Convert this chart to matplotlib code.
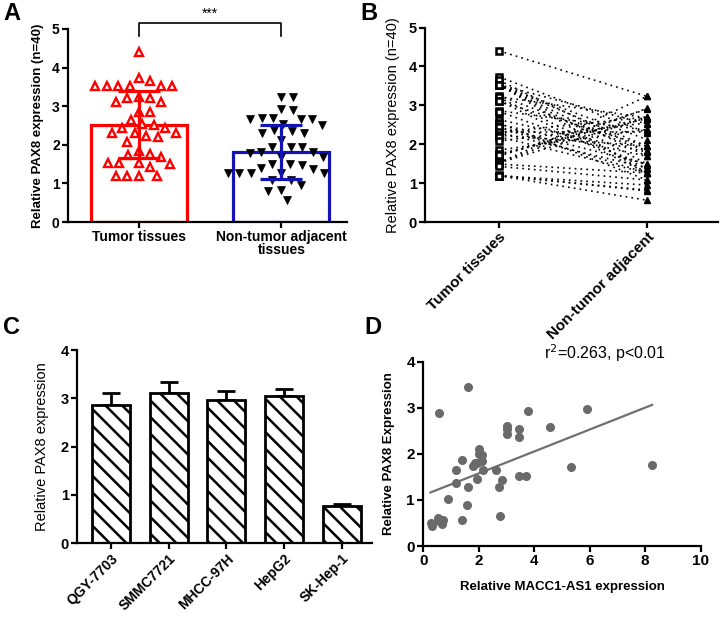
import numpy as np
import matplotlib
matplotlib.use("Agg")
import matplotlib.pyplot as plt

plt.rcParams['font.family'] = ['Liberation Sans', 'DejaVu Sans']
plt.rcParams['hatch.linewidth'] = 1.8
plt.rcParams['hatch.color'] = 'black'

# ---------------- data ----------------
groups_A = ["Tumor tissues", "Non-tumor adjacent\ntissues"]
groups_B = ["Tumor tissues", "Non-tumor adjacent"]
# paired samples (same order in both lists)
tumor = [4.40, 3.73, 3.64, 3.53, 3.53, 3.53, 3.53, 3.53, 3.53, 3.25,
         3.20, 3.22, 3.12, 3.10, 2.86, 2.84, 2.63, 2.54, 2.51, 2.43,
         2.44, 2.30, 2.30, 2.31, 2.23, 2.19, 2.08, 1.85, 1.75, 1.69,
         1.73, 1.52, 1.52, 1.53, 1.49, 1.43, 1.19, 1.19, 1.20, 1.19]
normal = [3.23, 2.30, 1.82, 1.95, 1.49, 2.12, 1.26, 1.69, 2.52, 1.82,
          1.37, 2.68, 1.26, 1.95, 2.36, 1.47, 1.80, 1.08, 1.69, 1.26,
          1.49, 2.70, 1.39, 2.31, 1.95, 1.26, 2.55, 2.38, 2.66, 2.90,
          2.70, 2.68, 3.23, 2.92, 1.26, 1.08, 0.95, 0.82, 0.80, 0.56]
bar_means_A = [2.52, 1.82]
bar_sd_A = [0.87, 0.70]

cell_lines = ["QGY-7703", "SMMC7721", "MHCC-97H", "HepG2", "SK-Hep-1"]
cell_means = [2.87, 3.12, 2.97, 3.05, 0.77]
cell_err = [0.25, 0.21, 0.19, 0.14, 0.04]

macc1 = [0.26, 0.30, 0.54, 0.57, 0.66, 0.70, 0.58, 0.88, 1.19, 1.19,
         1.39, 1.39, 1.56, 1.62, 1.61, 1.78, 1.92, 1.92, 2.02, 2.02,
         2.10, 2.13, 2.14, 2.63, 2.72, 2.75, 2.82, 3.00, 3.00, 3.00,
         3.46, 3.46, 3.46, 3.69, 3.76, 4.56, 5.32, 5.90, 8.25, 1.85]
pax8 = [0.51, 0.43, 0.61, 0.55, 0.48, 0.56, 2.88, 1.03, 1.66, 1.37,
        1.87, 0.56, 0.88, 1.29, 3.46, 1.74, 1.81, 1.45, 2.10, 2.00,
        1.85, 1.97, 1.66, 1.66, 1.29, 0.66, 1.43, 2.61, 2.55, 2.44,
        2.53, 2.37, 1.52, 1.52, 2.94, 2.59, 1.72, 2.97, 1.76, 1.80]
fit_slope = 0.238
fit_intercept = 1.10
stat_text = "r$^2$=0.263, p<0.01"

# ---------------- figure ----------------
W, H = 724, 617
fig = plt.figure(figsize=(W / 100, H / 100), dpi=100)


def ax_px(l, r, top, bottom):
    return fig.add_axes([l / W, 1 - bottom / H, (r - l) / W, (bottom - top) / H])


def style(ax, lw=1.6):
    for s in ['top', 'right']:
        ax.spines[s].set_visible(False)
    for s in ['left', 'bottom']:
        ax.spines[s].set_linewidth(lw)
    ax.tick_params(direction='out', length=4, width=lw, pad=2)


def swarm_offsets(values, d_px, px_x, px_y):
    cands = [0.0]
    for k in np.arange(0.5, 80, 0.5):
        cands += [k, -k]
    placed = []
    offs = np.zeros(len(values))
    order = np.argsort(-np.asarray(values), kind='stable')
    for i in order:
        y = values[i] * px_y
        for c in cands:
            if all((c - a) ** 2 + (y - b) ** 2 >= d_px ** 2 for a, b in placed):
                break
        placed.append((c, y))
        offs[i] = c / px_x
    return offs


# ---------- Panel A ----------
axA = ax_px(68, 347, 29, 222)
style(axA)
xA = np.arange(2)
xlimA = (-0.498, 1.46)
axA.set_xlim(*xlimA)
axA.set_ylim(0, 5)
colsA = ['#ff0000', '#1414b4']
for i in range(2):
    axA.bar(xA[i], bar_means_A[i], width=0.674, facecolor='white',
            edgecolor=colsA[i], linewidth=2.3, zorder=1)
px_x = 279 / (xlimA[1] - xlimA[0])
px_y = 193 / 5
offT = swarm_offsets(tumor, 11.5, px_x, px_y)
offN = swarm_offsets(normal, 11.5, px_x, px_y)
axA.plot(xA[0] + offT, tumor, linestyle='none', marker='^', ms=5.5,
         mfc='white', mec='#ff0000', mew=1.7, zorder=3)
axA.plot(xA[1] + offN, normal, linestyle='none', marker='v', ms=6,
         mfc='black', mec='black', mew=0.5, zorder=3)
for i in range(2):
    axA.errorbar(xA[i], bar_means_A[i], yerr=bar_sd_A[i], fmt='none',
                 ecolor=colsA[i], elinewidth=2.3, capsize=15, capthick=2.3,
                 zorder=4)
axA.set_xticks(xA)
axA.set_xticklabels(groups_A, fontsize=10.5, fontweight='bold',
                    linespacing=0.85)
axA.set_yticks(range(6))
axA.tick_params(axis='both', labelsize=10)
for t in axA.get_yticklabels():
    t.set_fontweight('bold')
axA.set_ylabel("Relative PAX8 expression (n=40)", fontsize=9.5,
               fontweight='bold', labelpad=6)
# significance bracket
axA.plot([xA[0], xA[0], xA[1], xA[1]], [4.82, 5.16, 5.16, 4.82],
         color='black', lw=1.2, clip_on=False)
axA.text((xA[0] + xA[1]) / 2, 5.2, "***", ha='center', va='bottom',
         fontsize=10)

# ---------- Panel B ----------
axB = ax_px(425, 718, 27.5, 222)
style(axB)
axB.set_xlim(-0.5, 1.48)
axB.set_ylim(0, 5)
for t, n in zip(tumor, normal):
    axB.plot([0, 1], [t, n], color='black', lw=1.2,
             linestyle=(0, (1, 2.5)), zorder=1)
axB.plot(np.zeros(len(tumor)), tumor, linestyle='none', marker='s', ms=5,
         mfc='white', mec='black', mew=1.8, zorder=3)
axB.plot(np.ones(len(normal)), normal, linestyle='none', marker='^', ms=4.5,
         mfc='black', mec='black', zorder=3)
axB.set_xticks([0, 1])
axB.set_xticklabels(groups_B, fontsize=11, fontweight='bold', rotation=45,
                    ha='right', rotation_mode='anchor')
axB.set_yticks(range(6))
axB.tick_params(axis='y', labelsize=10.5)
for t in axB.get_yticklabels():
    t.set_fontweight('bold')
axB.set_ylabel("Relative PAX8 expression (n=40)", fontsize=10.5, labelpad=6)

# ---------- Panel C ----------
axC = ax_px(77, 372, 350, 543.3)
style(axC)
xC = np.arange(len(cell_lines))
axC.set_xlim(-0.585, 4.52)
axC.set_ylim(0, 4)
axC.bar(xC, cell_means, width=0.66, facecolor='white', edgecolor='black',
        linewidth=2.0, hatch='\\\\', zorder=2)
axC.errorbar(xC, cell_means, yerr=[np.zeros(len(cell_err)), cell_err],
             fmt='none', ecolor='black', elinewidth=2.0, capsize=6.5,
             capthick=2.0, zorder=1)
axC.set_xticks(xC)
axC.set_xticklabels(cell_lines, fontsize=10, fontweight='bold', rotation=45,
                    ha='right', rotation_mode='anchor')
axC.set_yticks(range(5))
axC.tick_params(axis='y', labelsize=10.5)
for t in axC.get_yticklabels():
    t.set_fontweight('bold')
axC.set_ylabel("Relative PAX8 expression", fontsize=10.5, labelpad=8)

# ---------- Panel D ----------
axD = ax_px(423.3, 700.7, 361.7, 546)
style(axD)
axD.set_xlim(0, 10)
axD.set_ylim(0, 4)
axD.plot(macc1, pax8, linestyle='none', marker='o', ms=5.5, mfc='#6a6a6a',
         mec='#6a6a6a', zorder=3, clip_on=False)
xl = np.array([min(macc1), max(macc1)])
axD.plot(xl, fit_intercept + fit_slope * xl, color='#707070', lw=1.6,
         zorder=2)
axD.set_xticks(range(0, 11, 2))
axD.set_yticks(range(5))
axD.tick_params(axis='both', labelsize=11)
for t in axD.get_xticklabels() + axD.get_yticklabels():
    t.set_fontweight('bold')
axD.set_xlabel("Relative MACC1-AS1 expression", fontsize=9.5,
               fontweight='bold', labelpad=9)
axD.set_ylabel("Relative PAX8 Expression", fontsize=9.5, fontweight='bold',
               labelpad=8)
fig.text(544 / W, 1 - 353 / H, stat_text, fontsize=11.5, ha='left',
         va='center')

# panel letters
for lab, (x, y) in {"A": (11.5, 13.5), "B": (369, 13), "C": (12, 328),
                    "D": (373, 328)}.items():
    fig.text(x / W, 1 - y / H, lab, fontsize=17, fontweight='bold',
             ha='center', va='center')

fig.savefig("out.png", dpi=100, facecolor='white')
